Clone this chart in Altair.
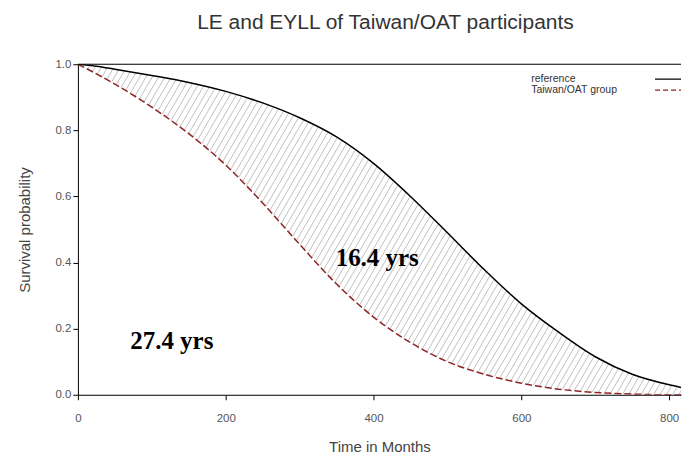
import altair as alt
import pandas as pd
import numpy as np

# ---- data ----
months = [0, 25, 50, 100, 150, 200, 250, 300, 350, 400, 450, 500, 550, 600, 650, 700, 750, 800, 816]
reference = [1.0, 0.994, 0.985, 0.966, 0.945, 0.918, 0.883, 0.838, 0.78, 0.70, 0.60, 0.49,
             0.378, 0.275, 0.19, 0.115, 0.062, 0.03, 0.022]
taiwan = [1.0, 0.971, 0.94, 0.87, 0.79, 0.695, 0.58, 0.455, 0.335, 0.235, 0.158, 0.10,
          0.062, 0.035, 0.017, 0.007, 0.002, 0.0, 0.0]
series_names = ["reference", "Taiwan/OAT group"]
annotations = ["16.4 yrs", "27.4 yrs"]
annot_x = [405, 127]
annot_y = [0.414, 0.163]
x_ticks = [0, 200, 400, 600, 800]
y_ticks = [0.0, 0.2, 0.4, 0.6, 0.8, 1.0]

XMAX = 816
W, H = 604, 331

ref_df = pd.DataFrame({"month": months, "surv": reference, "series": series_names[0]})
tw_df = pd.DataFrame({"month": months, "surv": taiwan, "series": series_names[1]})

# ---- hatch segments between the two curves (derived from the data) ----
sx = W / XMAX
cot = 0.58
spacing = 6.3
yup = np.arange(0, H + 0.01, 0.25)
segs = []
for c in np.arange(-H * cot, W, spacing):
    X = c + yup * cot
    xd = X / sx
    yd = yup / H
    valid = (xd >= 0) & (xd <= XMAX)
    lo = np.interp(xd, months, taiwan)
    hi = np.interp(xd, months, reference)
    inside = valid & (yd >= lo) & (yd <= hi)
    idx = np.flatnonzero(inside)
    if idx.size == 0:
        continue
    br = np.where(np.diff(idx) > 1)[0]
    starts = np.r_[idx[0], idx[br + 1]]
    ends = np.r_[idx[br], idx[-1]]
    for s, e in zip(starts, ends):
        if e > s:
            segs.append({"x": xd[s], "y": yd[s], "x2": xd[e], "y2": yd[e]})
hatch_df = pd.DataFrame(segs)

FONT = "Liberation Sans"
xscale = alt.Scale(domain=[0, XMAX], nice=False, zero=True)
yscale = alt.Scale(domain=[0, 1], nice=False)

xaxis = alt.Axis(values=x_ticks, title="Time in Months", grid=False, labelFont=FONT,
                 labelFontSize=11.5, labelColor="#555", labelPadding=12.5, tickSize=5,
                 tickColor="black", domainColor="black", titleFont=FONT, titleFontSize=15,
                 titleFontWeight="normal", titleColor="#444", titlePadding=16, labelFlush=False)
yaxis = alt.Axis(values=y_ticks, format=".1f", title="Survival probability", grid=False,
                 labelFont=FONT, labelFontSize=11.5, labelColor="#555", labelPadding=2,
                 tickSize=5, tickColor="black", domainColor="black", titleFont=FONT,
                 titleFontSize=15, titleFontWeight="normal", titleColor="#444",
                 titlePadding=22, labelFlush=False)

hatch = alt.Chart(hatch_df).mark_rule(color="#b0b0b0", strokeWidth=0.8, clip=True).encode(
    x=alt.X("x:Q", scale=xscale, axis=xaxis),
    y=alt.Y("y:Q", scale=yscale, axis=yaxis),
    x2="x2:Q", y2="y2:Q")

ref_line = alt.Chart(ref_df).mark_line(color="black", strokeWidth=1.5, interpolate="monotone",
                                       clip=True).encode(
    x=alt.X("month:Q", scale=xscale), y=alt.Y("surv:Q", scale=yscale))

tw_line = alt.Chart(tw_df).mark_line(color="#8e2424", strokeWidth=1.5, strokeDash=[7, 3],
                                     interpolate="monotone", clip=True).encode(
    x=alt.X("month:Q", scale=xscale), y=alt.Y("surv:Q", scale=yscale))

ann_df = pd.DataFrame({"label": annotations, "x": annot_x, "y": annot_y})
ann = alt.Chart(ann_df).mark_text(font="Liberation Serif", fontSize=25, fontWeight="bold",
                                  color="black").encode(
    x=alt.X("x:Q", scale=xscale), y=alt.Y("y:Q", scale=yscale), text="label:N")

top_border = alt.Chart(pd.DataFrame({"s": [0]})).mark_rule(color="black", strokeWidth=1.2).encode(
    y=alt.value(0))

leg_rows = []
for i, (name, col, dash) in enumerate(zip(series_names, ["black", "#8e2424"], [[1, 0], [5, 3]])):
    d = pd.DataFrame({"label": [name]})
    yy = 15 + 11 * i
    leg_rows.append(alt.Chart(d).mark_text(align="left", baseline="middle", font=FONT,
                                           fontSize=10.5, color="#333").encode(
        text="label:N", x=alt.value(454), y=alt.value(yy)))
    leg_rows.append(alt.Chart(d).mark_rule(color=col, strokeWidth=1.3, strokeDash=dash).encode(
        x=alt.value(578), x2=alt.value(604), y=alt.value(yy)))

chart = alt.layer(hatch, ref_line, tw_line, ann, top_border, *leg_rows).properties(
    width=W, height=H,
    title=alt.TitleParams("LE and EYLL of Taiwan/OAT participants", font=FONT, fontSize=21,
                          fontWeight="normal", color="#333", offset=25, dx=6),
    padding={"left": 10, "top": 4, "right": 0, "bottom": 0},
).configure_view(stroke=None)

chart.save("out.html", embed_options={"renderer": "svg", "actions": False})
